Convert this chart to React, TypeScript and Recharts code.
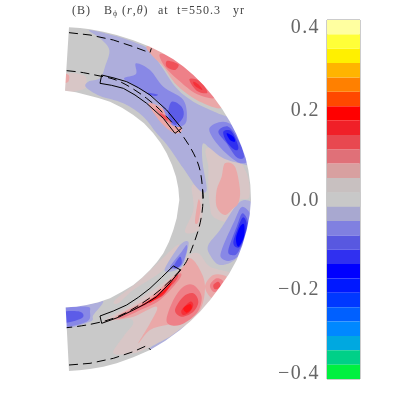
import React from 'react';
import { ScatterChart, Scatter, XAxis, YAxis, BarChart, Bar, ReferenceArea } from 'recharts';

// Field levels of the colour bar, top (+0.4) to bottom (-0.4)
const bandColors = ['#ffffa0','#ffff38','#fff000','#ffb400','#ff8000','#ff4800','#ff0000','#f02028','#e84850','#e07078','#d8a0a0','#c8c0c0','#c8c8c8','#a8a8d0','#8080e0','#5858e0','#3030f0','#0000ff','#0018ff','#0038ff','#0060ff','#0088ff','#00a8e0','#00d088','#00f040'];
// The same levels as they look inside the shell, where the resampling made them a little lighter
const shellColors: Record<number, string> = { 6: '#ff1418', 7: '#f53038', 8: '#f05058', 9: '#ee8088', 10: '#eaa8a8', 11: '#d8c6c6', 12: '#c9c9c9', 13: '#aeaedc', 14: '#8888e6', 15: '#5c5ce8', 16: '#3030f0', 17: '#0000ff' };
const barTicks = [-0.4, -0.2, 0, 0.2, 0.4];
const barLabelShift = [-6, 0, 0, 0, 7];
const bandStep = 0.032;

// Contour outlines. "t" uses the upper-half scale, "b" the lower-half scale.
const shellMask = [[-150,82],[-150,0],[750,0],[750,1197],[-150,1197],[-150,82],[57,82],[45,272],[78,277],[110,285],[145,294],[180,305],[216,323],[250,345],[282,370],[310,400],[332,429],[350,460],[366,495],[378,530],[385,565],[388,600],[385,620],[380,655],[370,690],[357,725],[340,760],[321,786],[300,810],[276,833],[250,855],[216,875],[180,895],[145,907],[110,915],[78,920],[47,922],[57,1113],[88,1111],[120,1107],[160,1100],[200,1090],[250,1072],[300,1050],[346,1022],[390,990],[421,964],[450,935],[481,899],[510,860],[537,822],[560,780],[577,736],[590,690],[599,645],[603,600],[601,555],[595,510],[587,475],[575,440],[559,402],[540,365],[516,326],[490,290],[461,256],[430,225],[401,200],[370,178],[336,158],[300,140],[250,121],[200,105],[160,95],[120,88],[90,84],[57,82]];
const shellBase = [[-100,40],[700,40],[700,1160],[-100,1160]];

const bigBlueTop = [[118,90],[200,109],[260,130],[298,150],[335,200],[380,265],[430,305],[500,338],[560,365],[615,430],[615,495],[578,492],[520,475],[480,445],[458,432],[458,490],[470,570],[445,568],[400,505],[355,440],[320,400],[280,350],[220,310],[150,288],[108,262],[115,245],[150,235],[165,200],[178,150],[150,115]];
const midBlueTop = [[222,235],[258,222],[258,190],[300,210],[340,260],[400,300],[410,360],[390,380],[360,370],[330,310],[290,280],[250,255]];
const midBlueRight = [[478,385],[520,365],[560,390],[600,470],[575,490],[540,470],[500,430]];
const deepBlueTop = [[365,305],[395,320],[400,350],[375,375],[355,345]];
const deepStripe = [[295,278],[322,283],[318,288],[298,284]];
const deepBlueRight = [[505,395],[535,380],[565,420],[582,470],[560,472],[530,430]];
const darkBlueRight = [[520,395],[545,395],[565,440],[555,450],[530,425]];
const coreBlueRight = [[530,400],[550,410],[555,425],[540,420]];
const roseOuter = [[295,138],[400,165],[525,290],[510,325],[440,300],[380,255],[340,200],[305,165]];
const roseMid = [[330,162],[385,180],[445,232],[495,292],[440,282],[385,240],[345,200]];
const roseA = [[352,182],[385,193],[375,210],[350,200]];
const roseB = [[418,238],[450,243],[472,278],[440,272]];
const roseCore = [[430,245],[445,253],[457,270],[435,258]];
const palePinkRight = [[470,445],[540,450],[590,520],[598,590],[570,600],[555,640],[530,665],[490,650],[480,620],[475,560],[475,500]];
const pinkRight = [[525,490],[555,500],[570,570],[565,610],[550,625],[525,645],[500,620],[500,570],[515,530]];
const paleLeft = [[35,222],[100,225],[110,250],[100,268],[35,275]];
const pinkLeft = [[35,222],[56,225],[55,245],[35,247]];
const roseUnderBoxOuter = [[295,310],[345,330],[395,385],[375,400],[335,370]];
const roseUnderBoxMid = [[315,325],[345,345],[365,370],[345,360]];
const roseUnderBoxCore = [[330,340],[350,352],[352,362],[335,350]];
const paleTail = [[425,560],[440,560],[448,620],[442,670],[428,670],[432,620]];

const lightBlueRightLow = [[475,165],[510,120],[570,35],[615,50],[610,130],[560,205],[510,225],[480,195]];
const midBlueRightLow = [[515,180],[550,100],[578,50],[610,100],[570,190],[540,212],[515,205]];
const deepBlueRightLow = [[535,180],[560,110],[578,70],[595,110],[565,185],[545,195]];
const darkBlueRightLow = [[550,160],[565,110],[580,82],[590,110],[570,170]];
const coreBlueRightLow = [[558,145],[570,110],[582,103],[582,140],[565,170]];
const tailBlue = [[345,235],[390,165],[415,155],[410,190],[395,230],[360,245]];
const tailMid = [[360,230],[395,185],[410,165],[410,185],[395,225],[375,235]];
const tailDeep = [[370,230],[390,200],[395,220],[380,235]];
const endBlue = [[30,352],[130,340],[160,335],[130,375],[120,395],[30,415]];
const endMid = [[30,360],[110,350],[120,365],[110,395],[30,410]];
const endDeep = [[30,368],[90,365],[95,385],[30,400]];
const edgeBlue = [[300,475],[360,440],[410,405],[420,420],[340,485]];
const paleInner = [[375,170],[385,180],[340,240],[250,300],[205,340],[195,330],[270,270]];
const paleBroad = [[410,200],[445,190],[480,230],[550,255],[530,320],[450,390],[380,430],[300,470],[250,490],[190,490],[220,440],[250,400],[230,385],[160,395],[250,340],[390,240]];
const pinkBroad = [[420,205],[450,240],[465,290],[450,360],[395,400],[350,405],[300,420],[265,460],[300,400],[320,350],[250,380],[190,385],[300,320],[390,240]];
const pinkSpotHalo = [[465,290],[490,255],[530,260],[530,290],[490,325]];
const pinkSpotMid = [[480,285],[500,265],[520,275],[510,300],[490,305]];
const pinkSpotCore = [[490,285],[505,275],[512,290],[495,298]];
const redMainA = [[350,395],[370,330],[400,290],[430,285],[455,320],[440,370],[390,405]];
const redMainB = [[375,360],[400,320],[430,310],[445,335],[430,365],[395,380]];
const redMainC = [[395,360],[420,335],[430,345],[420,365],[400,375]];
const redMainD = [[400,355],[420,342],[425,355],[410,368]];
const stripA = [[210,375],[300,330],[380,255],[390,265],[330,330],[260,365],[215,385]];
const stripB = [[250,360],[320,315],[380,255],[375,275],[320,325],[265,355]];
const stripC = [[275,345],[330,310],[370,270],[340,315],[290,340]];
const stripD = [[300,335],[340,305],[365,280],[345,305],[305,335]];
const paleNearDash = [[430,-10],[450,-10],[458,60],[445,120],[405,125],[430,60]];
const pinkNearDash = [[445,30],[452,50],[445,95],[435,95]];

const tachoTop = [[50,212],[100,218],[150,228],[210,245],[290,295],[350,350],[400,410],[440,480],[455,540],[460,600]];
const tachoBottom = [[458,0],[458,50],[445,120],[420,190],[395,235],[330,300],[260,350],[190,385],[110,405],[50,413]];
const surfaceTop = [[57,98],[120,105],[190,120],[250,140],[288,154],[300,158],[304,145]];
const surfaceBottom = [[57,525],[120,520],[190,505],[250,485],[290,467],[302,480]];
const boxTop = [[155,225],[192,234],[230,245],[265,263],[300,285],[350,330],[395,385],[375,400],[340,355],[290,310],[255,285],[220,265],[185,256],[150,250]];
const boxBottom = [[150,378],[190,363],[230,345],[265,322],[300,295],[335,262],[370,228],[392,240],[357,282],[320,320],[285,342],[250,360],[205,382],[155,400]];

const layers: [number[][], number, string][] = [
  [palePinkRight, 11, 't'], [paleLeft, 11, 't'], [paleTail, 11, 't'], [paleNearDash, 11, 'b'], [paleBroad, 11, 'b'], [paleInner, 11, 'b'],
  [bigBlueTop, 13, 't'], [lightBlueRightLow, 13, 'b'], [tailBlue, 13, 'b'], [endBlue, 13, 'b'], [edgeBlue, 13, 'b'],
  [roseOuter, 10, 't'], [pinkRight, 10, 't'], [pinkLeft, 10, 't'], [roseUnderBoxOuter, 10, 't'], [pinkNearDash, 10, 'b'], [pinkBroad, 10, 'b'], [pinkSpotHalo, 10, 'b'],
  [midBlueTop, 14, 't'], [midBlueRight, 14, 't'], [midBlueRightLow, 14, 'b'], [tailMid, 14, 'b'], [endMid, 14, 'b'],
  [deepBlueTop, 15, 't'], [deepStripe, 15, 't'], [deepBlueRight, 15, 't'], [deepBlueRightLow, 15, 'b'], [tailDeep, 15, 'b'], [endDeep, 15, 'b'],
  [darkBlueRight, 16, 't'], [darkBlueRightLow, 16, 'b'],
  [coreBlueRight, 17, 't'], [coreBlueRightLow, 17, 'b'],
  [roseMid, 9, 't'], [roseUnderBoxMid, 9, 't'], [pinkSpotMid, 9, 'b'], [redMainA, 9, 'b'], [stripA, 9, 'b'],
  [roseA, 8, 't'], [roseB, 8, 't'], [roseUnderBoxCore, 8, 't'], [pinkSpotCore, 8, 'b'], [redMainB, 8, 'b'], [stripB, 8, 'b'],
  [roseCore, 7, 't'], [redMainC, 7, 'b'], [stripC, 7, 'b'],
  [redMainD, 6, 'b'], [stripD, 6, 'b'],
];

const titleParts: [string, number][] = [['(B)', 72], ['B', 104], ['(', 122], ['at', 158], ['t=550.3', 177], ['yr', 233]];

// Closed Catmull-Rom curve, so that each contour passes through the points.
const smoothClosed = (ctx: any) => {
  let p: number[][] = [];
  return {
    areaStart() {}, areaEnd() {},
    lineStart() { p = []; },
    point(x: number, y: number) { p.push([+x, +y]); },
    lineEnd() {
      const n = p.length;
      ctx.moveTo(p[0][0], p[0][1]);
      for (let i = 0; i < n; i++) {
        const a = p[(i - 1 + n) % n], b = p[i], c = p[(i + 1) % n], d = p[(i + 2) % n];
        ctx.bezierCurveTo(b[0] + (c[0] - a[0]) / 6, b[1] + (c[1] - a[1]) / 6, c[0] - (d[0] - b[0]) / 6, c[1] - (d[1] - b[1]) / 6, c[0], c[1]);
      }
      ctx.closePath();
    },
  };
};

const toRows = (a: number[][]) => a.map(([x, y]) => ({ x, y }));
const noSymbol = () => <g />;

const upperBands = bandColors.slice(0, 12).reverse();
const lowerBands = bandColors.slice(13);
const barRow: Record<string, number | string> = { name: 'scale', up0: bandStep / 2, low0: -bandStep / 2 };
upperBands.forEach((_, i) => { barRow[`up${i + 1}`] = bandStep; });
lowerBands.forEach((_, i) => { barRow[`low${i + 1}`] = -bandStep; });

const BarTick = (p: any) => {
  const v = Number(p.payload.value);
  const i = barTicks.indexOf(v);
  const text = (v < 0 ? '\u2212' : '') + Math.abs(v).toFixed(1);
  return (
    <text x={p.x} y={p.y + barLabelShift[i] + 6} textAnchor="end" fontFamily="'Liberation Serif'" fontSize={20} letterSpacing={1.4} fill="#666">{text}</text>
  );
};

const titleStyle: React.CSSProperties = { position: 'absolute', top: 3, whiteSpace: 'pre', fontFamily: "'Liberation Serif'", fontSize: 12, letterSpacing: 1, color: '#444', lineHeight: '14px' };

export default function App() {
  return (
    <div style={{ position: 'absolute', left: 0, top: 0, width: 399, height: 399, background: '#fff', overflow: 'hidden', filter: 'blur(0.45px)' }}>
      <div style={{ position: 'absolute', left: 0, top: 0 }}>
        <ScatterChart width={399} height={399} margin={{ top: 0, right: 0, bottom: 0, left: 0 }}>
          <XAxis type="number" dataKey="x" domain={[-150, 1047]} hide allowDataOverflow />
          <YAxis yAxisId="t" type="number" dataKey="y" domain={[0, 1197]} reversed hide allowDataOverflow />
          <YAxis yAxisId="b" type="number" dataKey="y" domain={[-570, 627]} reversed hide allowDataOverflow />
          <Scatter yAxisId="t" data={toRows(shellBase)} shape={noSymbol} isAnimationActive={false} lineJointType="linearClosed" line={{ fill: shellColors[12], stroke: 'none' }} />
          {layers.map(([pts, band, axis], i) => (
            <Scatter key={i} yAxisId={axis} data={toRows(pts)} shape={noSymbol} isAnimationActive={false} lineJointType={smoothClosed as any} line={{ fill: shellColors[band], stroke: 'none' }} />
          ))}
          <Scatter yAxisId="t" data={toRows(shellMask)} shape={noSymbol} isAnimationActive={false} lineJointType="linearClosed" line={{ fill: '#ffffff', stroke: 'none' }} />
          <Scatter yAxisId="t" data={toRows(tachoTop)} shape={noSymbol} isAnimationActive={false} lineJointType="natural" line={{ fill: 'none', stroke: '#000', strokeWidth: 1, strokeDasharray: '9 5' }} />
          <Scatter yAxisId="b" data={toRows(tachoBottom)} shape={noSymbol} isAnimationActive={false} lineJointType="natural" line={{ fill: 'none', stroke: '#000', strokeWidth: 1, strokeDasharray: '9 5' }} />
          <Scatter yAxisId="t" data={toRows(surfaceTop)} shape={noSymbol} isAnimationActive={false} lineJointType="linear" line={{ fill: 'none', stroke: '#000', strokeWidth: 1, strokeDasharray: '9 5' }} />
          <Scatter yAxisId="b" data={toRows(surfaceBottom)} shape={noSymbol} isAnimationActive={false} lineJointType="linear" line={{ fill: 'none', stroke: '#000', strokeWidth: 1, strokeDasharray: '9 5' }} />
          <Scatter yAxisId="t" data={toRows(boxTop)} shape={noSymbol} isAnimationActive={false} lineJointType="linearClosed" line={{ fill: 'none', stroke: '#000', strokeWidth: 1 }} />
          <Scatter yAxisId="b" data={toRows(boxBottom)} shape={noSymbol} isAnimationActive={false} lineJointType="linearClosed" line={{ fill: 'none', stroke: '#000', strokeWidth: 1 }} />
        </ScatterChart>
      </div>
      <div style={{ position: 'absolute', left: 250, top: 0 }}>
        <BarChart width={130} height={399} data={[barRow]} stackOffset="sign" barCategoryGap={0} margin={{ top: 20, right: 20, bottom: 20, left: 0 }}>
          <XAxis dataKey="name" hide />
          <YAxis type="number" domain={[-0.4, 0.4]} ticks={barTicks} width={77} axisLine={false} tickLine={false} tick={BarTick} tickSize={0} tickMargin={7} interval={0} />
          {[bandColors[12], ...upperBands].map((c, i) => (
            <Bar key={`u${i}`} dataKey={`up${i}`} stackId="s" fill={c} stroke={i === 0 ? c : undefined} strokeWidth={i === 0 ? 1 : 0} isAnimationActive={false} />
          ))}
          {[bandColors[12], ...lowerBands].map((c, i) => (
            <Bar key={`l${i}`} dataKey={`low${i}`} stackId="s" fill={c} stroke={i === 0 ? c : undefined} strokeWidth={i === 0 ? 1 : 0} isAnimationActive={false} />
          ))}
          <ReferenceArea y1={-0.4} y2={0.4} fill="none" stroke="#999" strokeWidth={1} ifOverflow="visible" />
        </BarChart>
      </div>
      <div style={{ ...titleStyle, left: titleParts[0][1] }}>{titleParts[0][0]}</div>
      <div style={{ ...titleStyle, left: titleParts[1][1] }}>{titleParts[1][0]}<span style={{ fontSize: 8, position: 'relative', top: 2 }}>{'\u03d5'}</span></div>
      <div style={{ ...titleStyle, left: titleParts[2][1] }}>{'('}<i>r</i>{','}<i>{'\u03b8'}</i>{')'}</div>
      <div style={{ ...titleStyle, left: titleParts[3][1] }}>{titleParts[3][0]}</div>
      <div style={{ ...titleStyle, left: titleParts[4][1] }}>{titleParts[4][0]}</div>
      <div style={{ ...titleStyle, left: titleParts[5][1] }}>{titleParts[5][0]}</div>
    </div>
  );
}
